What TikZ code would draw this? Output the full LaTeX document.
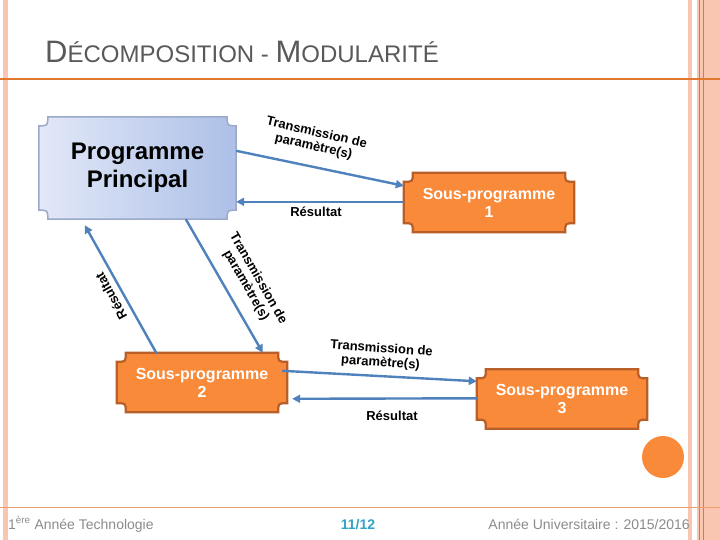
\documentclass[tikz,border=0pt]{standalone}
\usepackage{fontspec}
\setmainfont{Liberation Sans}
\usetikzlibrary{arrows.meta,calc,backgrounds}
\definecolor{pinkst}{HTML}{F9C6B2}
\definecolor{orln}{HTML}{E2772E}
\definecolor{orfill}{HTML}{F98A3A}
\definecolor{ordraw}{HTML}{B85E28}
\definecolor{bluearr}{HTML}{4F81BD}
\definecolor{ppleft}{HTML}{E2E8F7}
\definecolor{ppright}{HTML}{ADC0E8}
\definecolor{ppdraw}{HTML}{9AAAC8}
\definecolor{titlegray}{HTML}{58595B}
\definecolor{footgray}{HTML}{8C8C8C}
\definecolor{teal}{HTML}{31A3C6}
\newcommand\plaque[2]{\path[#2] let \p1=(#1.north west), \p2=(#1.south east), \n1={9pt} in
 (\x1+\n1,\y1) -- (\x2-\n1,\y1) .. controls (\x2-\n1,\y1-\n1) .. (\x2,\y1-\n1) -- (\x2,\y2+\n1)
 .. controls (\x2-\n1,\y2+\n1) .. (\x2-\n1,\y2) -- (\x1+\n1,\y2) .. controls (\x1+\n1,\y2+\n1) .. (\x1,\y2+\n1)
 -- (\x1,\y1-\n1) .. controls (\x1+\n1,\y1-\n1) .. (\x1+\n1,\y1) -- cycle;}
\tikzset{
 box/.style={inner sep=0pt, align=center},
 sub/.style={box, minimum width=170pt, minimum height=59pt, text=white, font=\bfseries\fontsize{16}{18}\selectfont},
 arr/.style={draw=bluearr, line width=2.4pt, -{Triangle[length=8pt,width=8pt]}},
 lab/.style={font=\bfseries\fontsize{13}{14}\selectfont, align=center, inner sep=0pt},
 orplq/.style={fill=orfill, draw=ordraw, line width=2.2pt},
 ppplq/.style={left color=ppleft, right color=ppright, draw=ppdraw, line width=1.5pt}
}
\begin{document}
\begin{tikzpicture}[x=1pt,y=-1pt]
\useasboundingbox (0,0) rectangle (720,540);
% nodes
\node[box, minimum width=197pt, minimum height=102pt, font=\bfseries\fontsize{24}{28}\selectfont] (pp) at (137.5,168) {Programme\\Principal};
\node[sub] (sp1) at (489,202.5) {Sous-programme\\1};
\node[sub] (sp2) at (202,382.5) {Sous-programme\\2};
\node[sub] (sp3) at (562,399) {Sous-programme\\3};
\begin{scope}[on background layer]
\fill[white] (0,0) rectangle (720,540);
\fill[pinkst] (3,0) rectangle (8,540);
\fill[pinkst] (688,0) rectangle (692,540);
\fill[pinkst] (697,0) rectangle (720,540);
\draw[orln, line width=0.8pt] (699.5,0) -- (699.5,540);
\draw[orln, line width=0.8pt] (703,0) -- (703,540);
\draw[orln, line width=1.6pt] (0,79) -- (720,79);
\draw[orln!70, line width=1pt] (0,507) -- (720,507);
\fill[orfill] (663,457) circle (21);
\plaque{pp}{ppplq}
\plaque{sp1}{orplq}
\plaque{sp2}{orplq}
\plaque{sp3}{orplq}
\end{scope}
% title
\node[anchor=base west, inner sep=0pt, text=titlegray] (title) at (45,63)
 {\fontsize{31}{34}\selectfont D\fontsize{24}{26}\selectfont ÉCOMPOSITION - \fontsize{31}{34}\selectfont M\fontsize{24}{26}\selectfont ODULARITÉ};
% footer
\node[anchor=base west, inner sep=0pt, text=footgray, font=\fontsize{14}{15}\selectfont] (f1) at (8,529) {1\textsuperscript{ère} Année Technologie};
\node[anchor=base, inner sep=0pt, text=teal, font=\bfseries\fontsize{14}{15}\selectfont] (f2) at (358,529) {11/12};
\node[anchor=base east, inner sep=0pt, text=footgray, font=\fontsize{14}{15}\selectfont] (f3) at (690,529) {Année Universitaire : 2015/2016};
% arrows
\coordinate (a1s) at ($(pp.north east)+(0,34)$);
\coordinate (a1e) at ($(sp1.north west)+(0,13)$);
\draw[arr] (a1s) -- (a1e);
\coordinate (a2s) at ($(sp1.north west)+(0,29)$);
\coordinate (a2e) at ($(pp.north east)+(0,85)$);
\draw[arr] (a2s) -- (a2e);
\coordinate (a3s) at ($(pp.south west)+(147,0)$);
\coordinate (a3e) at ($(sp2.north west)+(146,0)$);
\draw[arr] (a3s) -- (a3e);
\coordinate (a4s) at ($(sp2.north west)+(40,1)$);
\coordinate (a4e) at ($(pp.south west)+(46,6)$);
\draw[arr] (a4s) -- (a4e);
\coordinate (a5s) at ($(sp2.north east)+(-5,18)$);
\coordinate (a5e) at ($(sp3.north west)+(0,12)$);
\draw[arr] (a5s) -- (a5e);
\coordinate (a6s) at ($(sp3.north west)+(0,29)$);
\coordinate (a6e) at ($(sp2.north east)+(5,46)$);
\draw[arr] (a6s) -- (a6e);
% labels
\node[lab, rotate=-13] (l1) at (315,140) {Transmission de\\paramètre(s)};
\node[lab] (l2) at (316,212) {Résultat};
\node[lab, rotate=-60] (l3) at (252,282) {Transmission de\\paramètre(s)};
\node[lab, rotate=119] (l4) at (111,296) {Résultat};
\node[lab, rotate=-4] (l5) at (381,356) {Transmission de\\paramètre(s)};
\node[lab] (l6) at (392,416) {Résultat};
\end{tikzpicture}
\end{document}
